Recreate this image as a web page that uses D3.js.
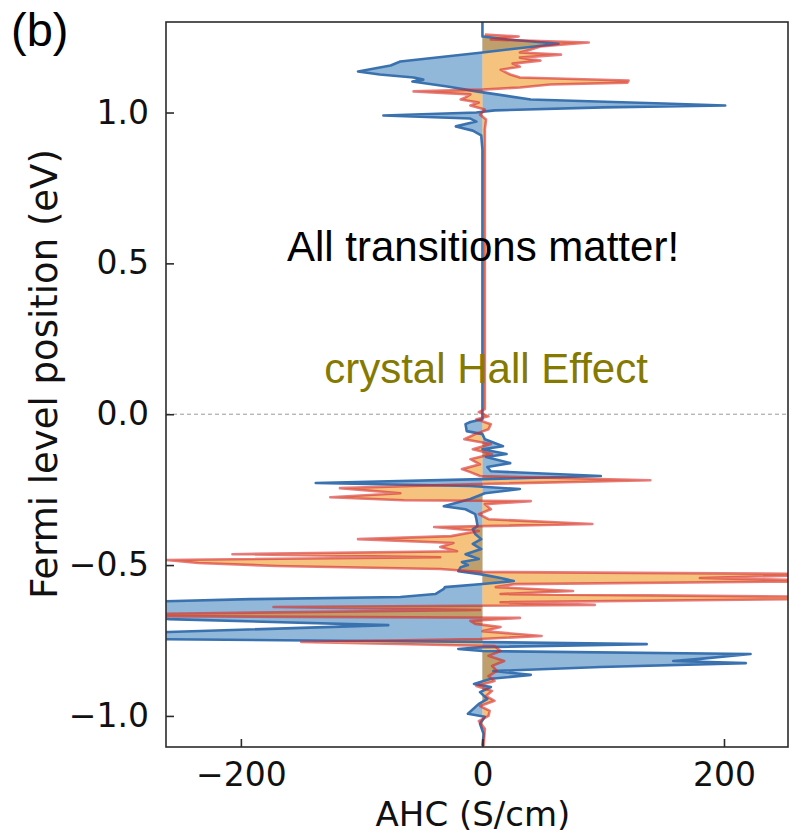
<!DOCTYPE html>
<html>
<head>
<meta charset="utf-8">
<script src="https://cdn.jsdelivr.net/npm/d3@7"></script>
<style>
  html, body { margin: 0; padding: 0; background: #fff; }
  svg { display: block; }
</style>
</head>
<body>
<svg id="chart" width="789" height="834"></svg>
<script>
// Anomalous Hall conductivity versus Fermi level position, two contributions.
const blueEnergy = [1.301,1.252,1.242,1.228,1.199,1.169,1.156,1.136,1.126,1.116,1.109,1.103,1.086,1.070,1.043,1.030,1.023,1.017,1.007,1.000,0.990,0.980,0.970,0.954,0.940,0.924,0.877,0.017,-0.017,-0.026,-0.033,-0.056,-0.066,-0.083,-0.106,-0.116,-0.132,-0.142,-0.162,-0.175,-0.189,-0.205,-0.215,-0.228,-0.238,-0.248,-0.262,-0.281,-0.305,-0.315,-0.331,-0.348,-0.371,-0.381,-0.397,-0.414,-0.430,-0.447,-0.464,-0.480,-0.490,-0.500,-0.507,-0.520,-0.530,-0.543,-0.553,-0.563,-0.573,-0.579,-0.596,-0.606,-0.613,-0.623,-0.672,-0.679,-0.699,-0.722,-0.728,-0.745,-0.755,-0.762,-0.772,-0.778,-0.785,-0.795,-0.811,-0.818,-0.825,-0.838,-0.851,-0.864,-0.877,-0.894,-0.904,-0.921,-0.944,-0.960,-0.993,-1.003,-1.026,-1.060,-1.099];
const blueAHC = [0,0,21,63,0,-68,-76,-103,-85,-57,-49,-58,-29,-5,40,150,201,100,10,-5,-82,-10,-5,-22,-8,-1,0,0,0,-10,-14,-13,0,2,17,0,20,3,23,4,7,98,0,-138,-10,31,2,-10,-32,-14,-6,-5,-4,-8,-6,-1,-8,-1,-14,-3,-17,-12,-18,-20,-2,15,26,0,-31,-32,-39,-68,-192,-290,-290,-260,-78,-260,-290,-290,0,136,0,-20,0,222,180,158,218,98,9,40,7,-7,7,-2,4,-3,-12,2,-2,1,0];

const redEnergy = [1.258,1.252,1.242,1.232,1.225,1.219,1.209,1.199,1.192,1.182,1.172,1.162,1.152,1.142,1.126,1.116,1.106,1.099,1.093,1.083,1.076,1.070,1.060,1.050,1.043,1.033,1.023,1.010,0.993,0.977,0.944,0.017,0.007,-0.007,-0.017,-0.033,-0.050,-0.066,-0.083,-0.099,-0.116,-0.132,-0.149,-0.166,-0.182,-0.192,-0.205,-0.219,-0.232,-0.245,-0.262,-0.275,-0.285,-0.288,-0.298,-0.315,-0.331,-0.348,-0.364,-0.374,-0.387,-0.404,-0.414,-0.427,-0.440,-0.454,-0.464,-0.474,-0.483,-0.493,-0.503,-0.513,-0.523,-0.530,-0.543,-0.553,-0.563,-0.573,-0.586,-0.596,-0.606,-0.613,-0.623,-0.632,-0.639,-0.649,-0.662,-0.669,-0.675,-0.685,-0.695,-0.705,-0.719,-0.735,-0.745,-0.755,-0.768,-0.785,-0.801,-0.818,-0.834,-0.851,-0.868,-0.884,-0.901,-0.917,-0.934,-0.950,-0.967,-0.983,-1.000,-1.017,-1.043,-1.099];
const redAHC = [2,30,7,88,65,48,40,31,65,31,48,25,31,15,23,31,121,120,56,31,0,-57,-10,-14,-18,-3,-10,2,-2,3,2,2,-3,5,-5,7,5,-6,-15,7,-8,8,-10,-2,-17,-10,-2,139,-10,-118,-68,-126,-65,40,2,7,-3,5,91,-40,-3,-26,-103,-24,-35,-21,-207,-35,-262,-235,-170,-35,0,300,180,300,27,11,75,15,300,260,15,93,-173,-2,-280,-280,31,-10,-6,15,0,49,-2,-150,10,15,5,18,8,12,5,10,-5,8,3,10,-2,6,5,-3,2,1];

const xTicks = [-200, 0, 200];
const yTicks = [-1.0, -0.5, 0.0, 0.5, 1.0];
const xDomain = [-262, 253];
const yDomain = [-1.103, 1.30];

const plot = { left: 166, right: 788, top: 22, bottom: 747 };

const svg = d3.select("#chart");
const x = d3.scaleLinear().domain(xDomain).range([plot.left, plot.right]);
const y = d3.scaleLinear().domain(yDomain).range([plot.bottom, plot.top]);

svg.append("defs").append("clipPath").attr("id", "plotClip")
  .append("rect")
  .attr("x", plot.left).attr("y", plot.top)
  .attr("width", plot.right - plot.left).attr("height", plot.bottom - plot.top);

const blueData = blueEnergy.map((e, i) => ({ e, v: blueAHC[i] }));
const redData = redEnergy.map((e, i) => ({ e, v: redAHC[i] }));

const area = d3.area()
  .y(d => y(d.e))
  .x0(x(0))
  .x1(d => x(d.v));
const line = d3.line()
  .y(d => y(d.e))
  .x(d => x(d.v));

const g = svg.append("g").attr("clip-path", "url(#plotClip)");

// zero reference for the Fermi level
g.append("line")
  .attr("x1", plot.left).attr("x2", plot.right)
  .attr("y1", y(0)).attr("y2", y(0))
  .attr("stroke", "#9a9a9a").attr("stroke-width", 1)
  .attr("stroke-dasharray", "4,3");

g.append("path").datum(blueData)
  .attr("d", area)
  .attr("fill", "#2470b4").attr("fill-opacity", 0.5);
g.append("path").datum(redData)
  .attr("d", area)
  .attr("fill", "#ee8800").attr("fill-opacity", 0.5);
g.append("path").datum(blueData)
  .attr("d", line)
  .attr("fill", "none").attr("stroke", "#3a72b0").attr("stroke-width", 2.6)
  .attr("stroke-linejoin", "round");
g.append("path").datum(redData)
  .attr("d", line)
  .attr("fill", "none").attr("stroke", "#d62728").attr("stroke-opacity", 0.6)
  .attr("stroke-width", 2.6).attr("stroke-linejoin", "round");

// frame
svg.append("rect")
  .attr("x", plot.left).attr("y", plot.top)
  .attr("width", plot.right - plot.left).attr("height", plot.bottom - plot.top)
  .attr("fill", "none").attr("stroke", "#2b2b2b").attr("stroke-width", 1.6);

const tickFont = "'DejaVu Sans', sans-serif";

// x axis: inward ticks
const xAxis = svg.append("g").attr("transform", `translate(0,${plot.bottom})`)
  .call(d3.axisBottom(x).tickValues(xTicks).tickSizeInner(-8).tickSizeOuter(0).tickPadding(16)
    .tickFormat(d => d < 0 ? "\u2212" + Math.abs(d) : String(d)));
xAxis.select(".domain").remove();
xAxis.selectAll("line").attr("stroke", "#2b2b2b").attr("stroke-width", 1.6);
xAxis.selectAll("text").attr("font-family", tickFont).attr("font-size", 33).attr("fill", "#111")
  .attr("dy", "0.71em");

// y axis: inward ticks
const yAxis = svg.append("g").attr("transform", `translate(${plot.left},0)`)
  .call(d3.axisLeft(y).tickValues(yTicks).tickSizeInner(-8).tickSizeOuter(0).tickPadding(17)
    .tickFormat(d => (d < 0 ? "\u2212" : "") + Math.abs(d).toFixed(1)));
yAxis.select(".domain").remove();
yAxis.selectAll("line").attr("stroke", "#2b2b2b").attr("stroke-width", 1.6);
yAxis.selectAll("text").attr("font-family", tickFont).attr("font-size", 33).attr("fill", "#111");

// axis titles
svg.append("text")
  .attr("x", (plot.left + plot.right) / 2 - 4).attr("y", 826)
  .attr("text-anchor", "middle")
  .attr("font-family", tickFont).attr("font-size", 34).attr("fill", "#111")
  .text("AHC (S/cm)");
svg.append("text")
  .attr("transform", `translate(57,374) rotate(-90)`)
  .attr("text-anchor", "middle")
  .attr("font-family", tickFont).attr("font-size", 37).attr("fill", "#111")
  .text("Fermi level position (eV)");

// annotations
svg.append("text")
  .attr("x", 483).attr("y", 261)
  .attr("text-anchor", "middle")
  .attr("font-family", "'Liberation Sans', Arial, sans-serif").attr("font-size", 42).attr("fill", "#000")
  .text("All transitions matter!");
svg.append("text")
  .attr("x", 486).attr("y", 383)
  .attr("text-anchor", "middle")
  .attr("font-family", "'Liberation Sans', Arial, sans-serif").attr("font-size", 42).attr("fill", "#857a00")
  .text("crystal Hall Effect");

svg.append("text")
  .attr("x", 11).attr("y", 46)
  .attr("font-family", "'Liberation Sans', Arial, sans-serif").attr("font-size", 47).attr("fill", "#000")
  .text("(b)");
</script>
</body>
</html>
